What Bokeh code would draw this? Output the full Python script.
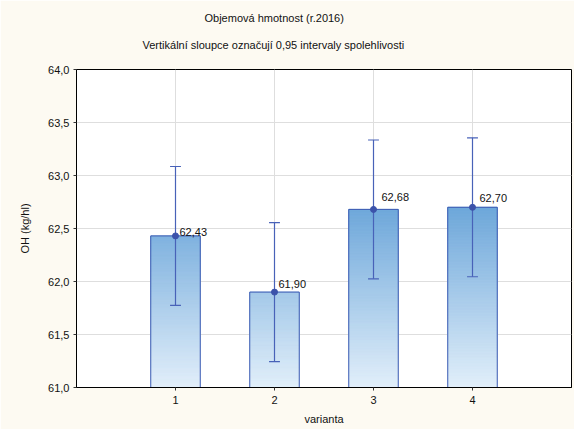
from bokeh.plotting import figure
from bokeh.models import (FixedTicker, CustomJSTickFormatter, Title, ColumnDataSource, Range1d)
from bokeh.core.properties import value
from bokeh.embed import file_html
from bokeh.resources import INLINE

# ---- data ----
varianta = [1, 2, 3, 4]
means = [62.43, 61.90, 62.68, 62.70]
ci_half = [0.655, 0.655, 0.655, 0.655]
labels = ["62,43", "61,90", "62,68", "62,70"]
y_ticks = [61.0, 61.5, 62.0, 62.5, 63.0, 63.5, 64.0]
x_ticks = [1, 2, 3, 4]
title_text = "Objemová hmotnost (r.2016)"
subtitle_text = "Vertikální sloupce označují 0,95 intervaly spolehlivosti"

# ---- style ----
FONT = "Liberation Sans"
BG = "#fdfaf2"
bar_w = 0.5
y_base = 61.0
lab_dx = [4, 4, 8, 7]
lab_dy = [4, 8, 12, 9]

def lerp_color(t):
    c0 = (0xe2, 0xef, 0xfa)
    c1 = (0x6a, 0xa5, 0xd9)
    t = max(0.0, min(1.0, t))
    return "#%02x%02x%02x" % tuple(int(round(a + (b - a) * t)) for a, b in zip(c0, c1))

p = figure(width=574, height=429, output_backend="svg", toolbar_location=None,
           x_range=Range1d(0, 5), y_range=Range1d(61.0, 64.0),
           min_border_left=76, min_border_right=3, min_border_top=69, min_border_bottom=42,
           background_fill_color="white", border_fill_color=BG)
p.outline_line_color = "#000000"
p.outline_line_width = 1

# gradient bars built from overlapping thin slices
gl, gr, gb, gt, gc = [], [], [], [], []
n = 60
for xv, m in zip(varianta, means):
    h = (m - y_base) / n
    for i in range(n):
        b = y_base + i * h
        t = min(b + h * 2.0, m)
        gl.append(xv - bar_w / 2); gr.append(xv + bar_w / 2)
        gb.append(b); gt.append(t)
        gc.append(lerp_color((b + h / 2 - y_base) / (62.75 - y_base)))
p.quad(left=gl, right=gr, bottom=gb, top=gt, fill_color=gc, line_color=gc, line_width=0.6)
p.quad(left=[x - bar_w / 2 for x in varianta], right=[x + bar_w / 2 for x in varianta],
       bottom=[y_base] * 4, top=means, fill_color=None, line_color="#3d5bb3", line_width=1)

# error bars
lo = [m - c for m, c in zip(means, ci_half)]
hi = [m + c for m, c in zip(means, ci_half)]
ecol = "#4862b8"
p.segment(x0=varianta, y0=lo, x1=varianta, y1=hi, line_color=ecol, line_width=1.2)
p.segment(x0=[x - 0.055 for x in varianta], y0=lo, x1=[x + 0.055 for x in varianta], y1=lo,
          line_color=ecol, line_width=1.2)
p.segment(x0=[x - 0.055 for x in varianta], y0=hi, x1=[x + 0.055 for x in varianta], y1=hi,
          line_color=ecol, line_width=1.2)
p.scatter(varianta, means, size=6, fill_color="#3b52aa", line_color="#3b52aa")

src = ColumnDataSource(dict(x=varianta, y=means, t=labels,
                            dx=lab_dx, dy=[-d for d in lab_dy]))
p.text(x="x", y="y", text="t", x_offset="dx", y_offset="dy", source=src,
       text_font=value(FONT), text_font_size="11px", text_color="#111111",
       text_baseline="middle", text_align="left")

# axes
p.xaxis.ticker = FixedTicker(ticks=x_ticks)
p.yaxis.ticker = FixedTicker(ticks=y_ticks)
p.yaxis.formatter = CustomJSTickFormatter(code="return tick.toFixed(1).replace('.', ',');")
for ax in (p.xaxis, p.yaxis):
    ax.axis_line_color = "#000000"
    ax.major_tick_line_color = "#333333"
    ax.major_tick_in = 0
    ax.major_tick_out = 3
    ax.minor_tick_line_color = None
    ax.major_label_text_font = FONT
    ax.major_label_text_font_size = "11px"
    ax.major_label_text_color = "#111111"
    ax.axis_label_text_font = FONT
    ax.axis_label_text_font_size = "11px"
    ax.axis_label_text_font_style = "normal"
    ax.axis_label_text_color = "#111111"
p.xaxis.axis_label = "varianta"
p.yaxis.axis_label = "OH (kg/hl)"
p.xaxis.major_label_standoff = 5
p.xaxis.axis_label_standoff = 6
p.yaxis.major_label_standoff = 4
p.yaxis.axis_label_standoff = 14

p.xgrid.ticker = FixedTicker(ticks=x_ticks)
p.ygrid.ticker = FixedTicker(ticks=y_ticks)
p.grid.grid_line_color = "#dedede"
p.grid.grid_line_width = 1

sub = Title(text=subtitle_text, align="left",
            offset=66, text_font=FONT, text_font_size="11px", text_font_style="normal",
            text_color="#111111", standoff=37)
tit = Title(text=title_text, align="left", offset=128,
            text_font=FONT, text_font_size="11px", text_font_style="normal",
            text_color="#111111", standoff=-11)
p.add_layout(sub, "above")
p.add_layout(tit, "above")

open("out.html", "w").write(file_html(p, INLINE))
